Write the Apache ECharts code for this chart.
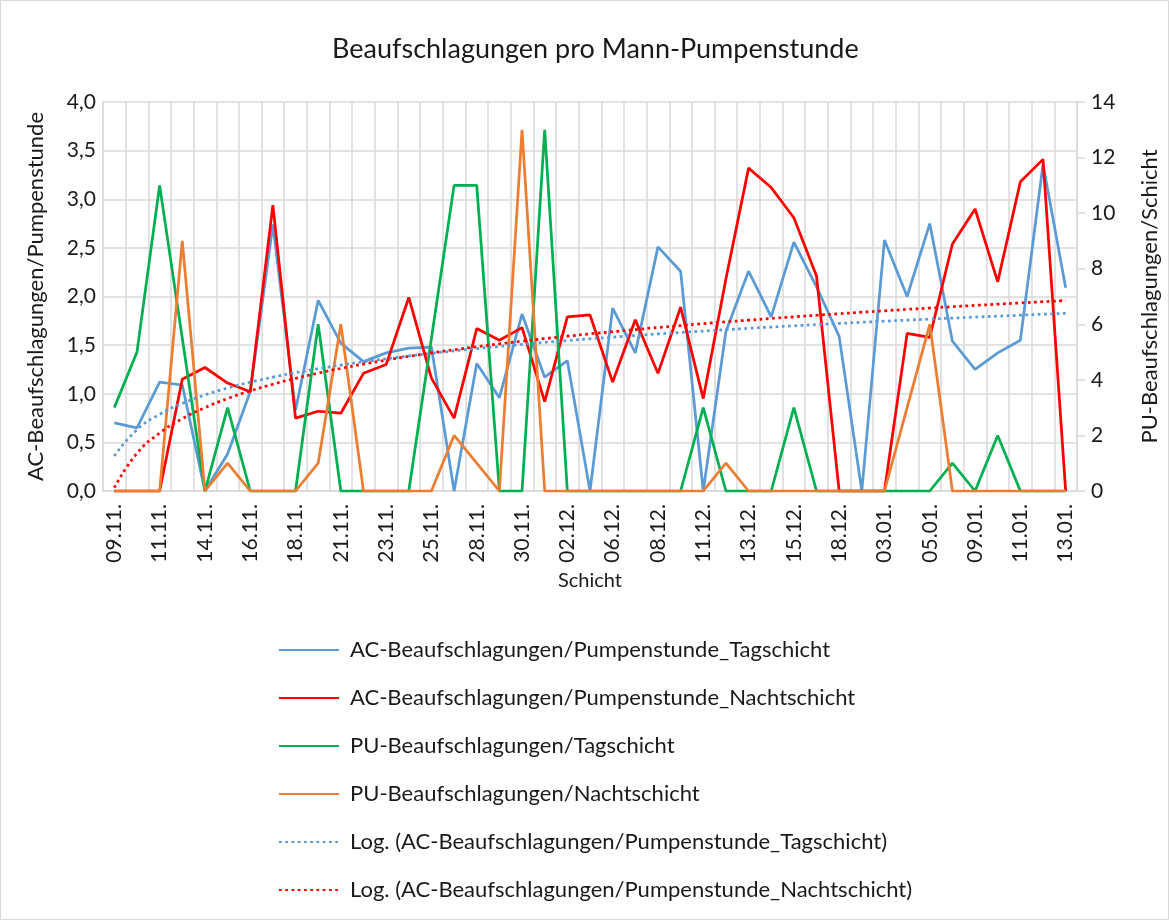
<!DOCTYPE html>
<html>
<head>
<meta charset="utf-8">
<script src="https://cdn.jsdelivr.net/npm/echarts@6/dist/echarts.min.js"></script>
<style>
  html, body { margin: 0; padding: 0; background: #fff; }
  #chart { width: 1169px; height: 920px; }
</style>
</head>
<body>
<div id="chart"></div>
<script>
// Schichten (every other label is shown on the axis)
var schichten = ['09.11.','10.11.','11.11.','12.11.','14.11.','15.11.','16.11.','17.11.','18.11.','19.11.',
    '21.11.','22.11.','23.11.','24.11.','25.11.','26.11.','28.11.','29.11.','30.11.','01.12.',
    '02.12.','05.12.','06.12.','07.12.','08.12.','09.12.','11.12.','12.12.','13.12.','14.12.',
    '15.12.','16.12.','18.12.','19.12.','03.01.','04.01.','05.01.','08.01.','09.01.','10.01.',
    '11.01.','12.01.','13.01.'];

// AC-Beaufschlagungen/Pumpenstunde (left axis)
var acTag = [0.70,0.65,1.12,1.09,0.00,0.38,1.02,2.74,0.83,1.96,
    1.52,1.33,1.42,1.47,1.48,0.00,1.31,0.96,1.82,1.17,
    1.34,0.00,1.88,1.42,2.51,2.26,0.00,1.64,2.26,1.79,
    2.56,2.10,1.59,0.00,2.58,2.00,2.75,1.54,1.25,1.42,
    1.55,3.36,2.09];
var acNacht = [0,0,0,1.15,1.27,1.11,1.02,2.94,0.75,0.82,
    0.80,1.21,1.30,1.99,1.16,0.75,1.67,1.55,1.68,0.92,
    1.79,1.81,1.12,1.76,1.21,1.89,0.95,2.18,3.32,3.12,
    2.81,2.21,0,0,0,1.62,1.58,2.54,2.90,2.15,
    3.18,3.41,0];

// PU-Beaufschlagungen/Schicht (right axis)
var puTag = [3,5,11,5.5,0,3,0,0,0,6,
    0,0,0,0,5.5,11,11,0,0,13,
    0,0,0,0,0,0,3,0,0,0,
    3,0,0,0,0,0,0,1,0,2,
    0,0,0];
var puNacht = [0,0,0,9,0,1,0,0,0,1,
    6,0,0,0,0,2,1,0,13,0,
    0,0,0,0,0,0,0,1,0,0,
    0,0,0,0,0,3,6,0,0,0,
    0,0,0];

var leftTicks = [0, 4, 0.5];
var rightTicks = [0, 14, 2];

var names = [
    'AC-Beaufschlagungen/Pumpenstunde_Tagschicht',
    'AC-Beaufschlagungen/Pumpenstunde_Nachtschicht',
    'PU-Beaufschlagungen/Tagschicht',
    'PU-Beaufschlagungen/Nachtschicht',
    'Log. (AC-Beaufschlagungen/Pumpenstunde_Tagschicht)',
    'Log. (AC-Beaufschlagungen/Pumpenstunde_Nachtschicht)'
];

// logarithmic trend line like Excel: y = a*ln(x) + b, x = 1..n
function logTrend(ys) {
    var n = ys.length, sx = 0, sy = 0, sxx = 0, sxy = 0;
    for (var i = 0; i < n; i++) {
        var lx = Math.log(i + 1);
        sx += lx; sy += ys[i]; sxx += lx * lx; sxy += lx * ys[i];
    }
    var a = (n * sxy - sx * sy) / (n * sxx - sx * sx);
    var b = (sy - a * sx) / n;
    return ys.map(function (v, i) { return a * Math.log(i + 1) + b; });
}

var font = 'Lato, "Open Sans", sans-serif';
var txt = '#1a1a1a';
var grey = '#d9d9d9';

function line(name, data, color, axis, dotted) {
    return {
        name: name, type: 'line', data: data, yAxisIndex: axis,
        symbol: 'none', smooth: !!dotted,
        lineStyle: { color: color, width: 2.75, type: dotted ? [2.75, 3.5] : 'solid' },
        itemStyle: { color: color }
    };
}

var myChart = echarts.init(document.getElementById('chart'));
var option = {
    animation: false,
    textStyle: { fontFamily: font },
    title: {
        text: 'Beaufschlagungen pro Mann-Pumpenstunde',
        left: 327, top: 31,
        textStyle: { fontFamily: font, fontSize: 27, fontWeight: 'normal', color: txt }
    },
    graphic: [{
        type: 'rect', shape: { x: 0.5, y: 0.5, width: 1168, height: 919 },
        style: { fill: null, stroke: grey, lineWidth: 1 }
    }],
    legend: {
        orient: 'vertical', left: 273, top: 634,
        itemWidth: 60, itemHeight: 22, itemGap: 26,
        itemStyle: { opacity: 0 },
        textStyle: { fontFamily: font, fontSize: 22, lineHeight: 22, color: txt, padding: [0, 0, 0, 6] },
        data: names
    },
    grid: { left: 103, right: 83, top: 102, bottom: 429 },
    xAxis: {
        type: 'category', data: schichten, boundaryGap: true,
        name: 'Schicht', nameLocation: 'middle', nameGap: 80,
        nameTextStyle: { fontFamily: font, fontSize: 20, color: txt },
        axisLine: { lineStyle: { color: grey, width: 1.5 } },
        axisTick: { show: false },
        axisLabel: { interval: 1, rotate: 90, fontFamily: font, fontSize: 21, color: txt, margin: 13 },
        splitLine: { show: true, interval: 0, lineStyle: { color: grey, width: 1.5 } }
    },
    yAxis: [{
        type: 'value', min: leftTicks[0], max: leftTicks[1], interval: leftTicks[2],
        name: 'AC-Beaufschlagungen/Pumpenstunde', nameLocation: 'middle', nameGap: 56, nameRotate: 90,
        nameTextStyle: { fontFamily: font, fontSize: 22, color: txt },
        axisLine: { show: true, lineStyle: { color: grey, width: 1.5 } },
        axisTick: { show: false },
        axisLabel: {
            fontFamily: font, fontSize: 21, color: txt, margin: 7,
            formatter: function (v) { return v.toFixed(1).replace('.', ','); }
        },
        splitLine: { lineStyle: { color: grey, width: 1.5 } }
    }, {
        type: 'value', min: rightTicks[0], max: rightTicks[1], interval: rightTicks[2],
        position: 'right',
        name: 'PU-Beaufschlagungen/Schicht', nameLocation: 'middle', nameGap: 62, nameRotate: 90,
        nameTextStyle: { fontFamily: font, fontSize: 22, color: txt },
        axisLine: { show: true, lineStyle: { color: grey, width: 1.5 } },
        axisTick: { show: true, length: 8, lineStyle: { color: grey, width: 1.5 } },
        axisLabel: { fontFamily: font, fontSize: 21, color: txt, margin: 14 },
        splitLine: { show: false }
    }],
    series: [
        line(names[0], acTag, '#5b9bd5', 0),
        line(names[1], acNacht, '#ff0000', 0),
        line(names[2], puTag, '#00b050', 1),
        line(names[3], puNacht, '#ed7d31', 1),
        line(names[4], logTrend(acTag), '#5b9bd5', 0, true),
        line(names[5], logTrend(acNacht), '#ff0000', 0, true)
    ]
};
myChart.setOption(option);
</script>
</body>
</html>
